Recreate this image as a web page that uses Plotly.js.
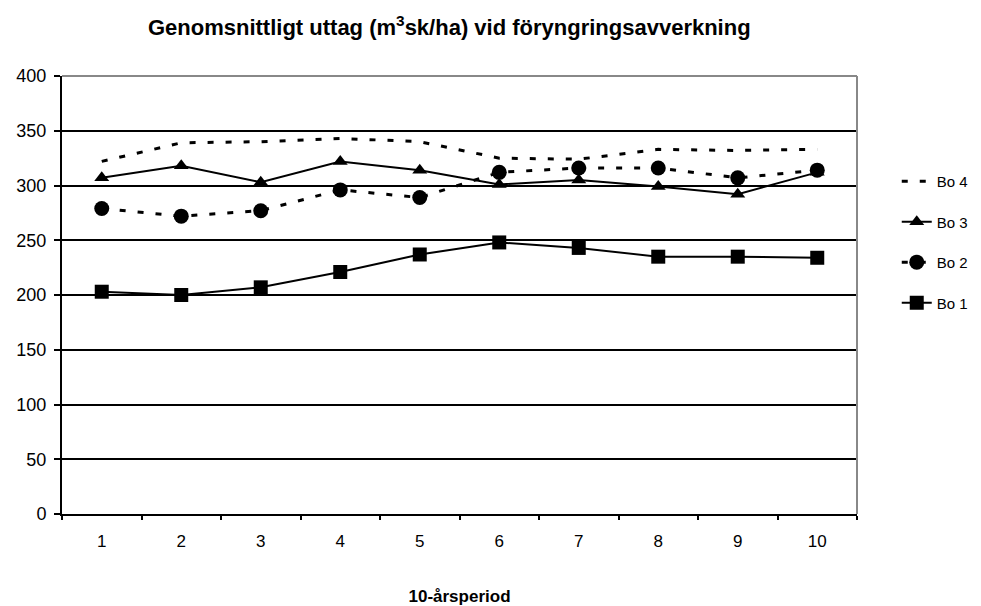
<!DOCTYPE html>
<html>
<head>
<meta charset="utf-8">
<script src="https://cdn.plot.ly/plotly-3.0.1.min.js"></script>
<style>html,body{margin:0;padding:0;background:#fff;}#chart{width:981px;height:606px;}</style>
</head>
<body>
<div id="chart"></div>
<script>
const periods = ['1','2','3','4','5','6','7','8','9','10'];
const bo1 = [203, 200, 207, 221, 237, 248, 243, 235, 235, 234];
const bo2 = [279, 272, 277, 296, 289, 312, 316, 316, 307, 314];
const bo3 = [307, 318, 303, 322, 314, 301, 305, 299, 292, 312];
const bo4 = [322, 339, 340, 343, 340, 325, 324, 333, 332, 333];
const yTicks = [0, 50, 100, 150, 200, 250, 300, 350, 400];

const traces = [
  {name:'Bo 1', x:periods, y:bo1, mode:'lines+markers', legendgroup:'g1', legendrank:4,
   line:{color:'#000', width:2}, marker:{symbol:'square', size:14, color:'#000'}},
  {name:'Bo 2', x:periods, y:bo2, mode:'lines+markers', legendgroup:'g2', legendrank:3,
   line:{color:'#000', width:3, dash:'6px,12px'}, marker:{symbol:'circle', size:15, color:'#000'}},
  {name:'Bo 3', x:periods, y:bo3, mode:'lines+markers', legendgroup:'g3', legendrank:2,
   line:{color:'#000', width:2}, marker:{symbol:'triangle-up', size:13, color:'#000'}},
  {name:'Bo 4', x:periods, y:bo4, mode:'lines', legendgroup:'g4', legendrank:1,
   line:{color:'#000', width:3, dash:'6px,12px'}}
];

const font = "'Liberation Sans', Arial, sans-serif";
const layout = {
  width:981, height:606,
  paper_bgcolor:'#fff', plot_bgcolor:'#fff',
  margin:{l:62, r:124, t:76, b:92, autoexpand:false},
  font:{family:font, size:17, color:'#000'},
  title:{text:'<b>Genomsnittligt uttag (m<sup>3</sup>sk/ha) vid föryngringsavverkning</b>',
         font:{family:font, size:22, color:'#000'}, x:0.458, xanchor:'center', y:0.955, yanchor:'middle'},
  xaxis:{type:'category', tickson:'boundaries', ticks:'outside', ticklen:4, tickwidth:2, tickcolor:'#000',
         showline:true, linecolor:'#000', linewidth:2, showgrid:false, zeroline:false,
         tickfont:{family:font, size:17}, range:[-0.5, 9.5], ticklabelstandoff:11,
         title:{text:'<b>10-årsperiod</b>', font:{family:font, size:17}, standoff:48}},
  yaxis:{range:[0,400], tickvals:yTicks, ticks:'outside', ticklen:6, tickwidth:2, tickcolor:'#000',
         showline:true, linecolor:'#000', linewidth:2, showgrid:true, gridcolor:'#000', gridwidth:2,
         zeroline:false, tickfont:{family:font, size:18}, ticklabelstandoff:4},
  legend:{x:1.05, xanchor:'left', y:0.797, yanchor:'top', tracegroupgap:18,
          font:{family:font, size:15}, bgcolor:'rgba(0,0,0,0)'},
  shapes:[
    {type:'line', xref:'paper', yref:'paper', x0:0, x1:1, y0:1, y1:1, line:{color:'#888', width:2}, layer:'above'},
    {type:'line', xref:'paper', yref:'paper', x0:1, x1:1, y0:0, y1:1, line:{color:'#888', width:2}, layer:'above'}
  ]
};
Plotly.newPlot('chart', traces, layout, {displayModeBar:false, staticPlot:true});
</script>
</body>
</html>
